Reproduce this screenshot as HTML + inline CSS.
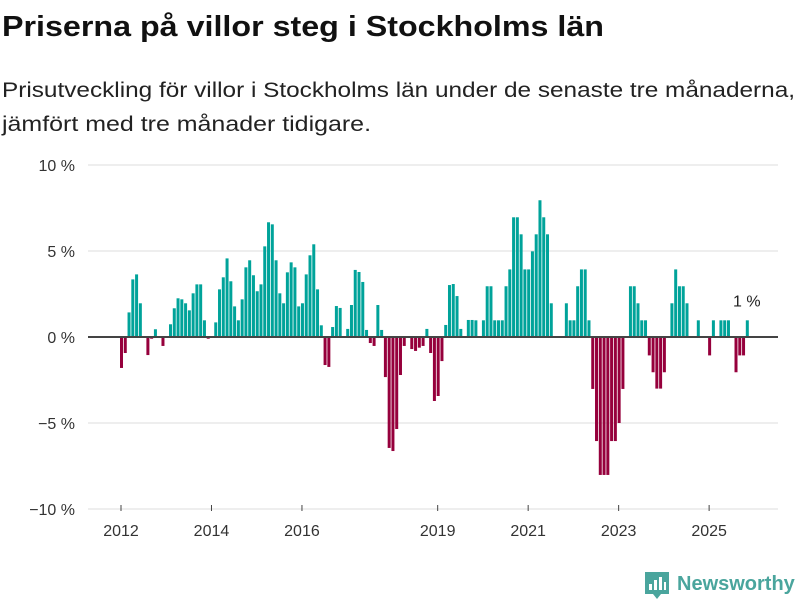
<!DOCTYPE html>
<html><head><meta charset="utf-8"><style>
body{margin:0;width:800px;height:600px;background:#fff;font-family:"Liberation Sans","DejaVu Sans",sans-serif;color:#111;overflow:hidden;position:relative}
svg{position:absolute;left:0;top:0}
</style></head><body>
<svg width="800" height="600">
<text x="2" y="36" font-size="29" font-weight="bold" fill="#111" textLength="602" lengthAdjust="spacingAndGlyphs">Priserna på villor steg i Stockholms län</text>
<text x="2" y="97" font-size="21" fill="#222" textLength="793" lengthAdjust="spacingAndGlyphs">Prisutveckling för villor i Stockholms län under de senaste tre månaderna,</text>
<text x="2" y="131" font-size="21" fill="#222" textLength="369" lengthAdjust="spacingAndGlyphs">jämfört med tre månader tidigare.</text>
</svg>
<svg id="chart" width="800" height="600"></svg>
<script>
const values = [-1.8,-0.93,1.43,3.35,3.64,1.96,0,-1.05,-0.1,0.45,0,-0.52,0,0.74,1.67,2.25,2.19,1.96,1.55,2.54,3.06,3.06,0.97,-0.1,
0,0.85,2.77,3.47,4.57,3.24,1.78,0.97,2.19,4.05,4.46,3.59,2.66,3.06,5.27,6.67,6.55,4.46,2.54,1.96,3.76,4.34,4.05,1.78,
1.96,3.64,4.75,5.39,2.77,0.68,-1.63,-1.74,0.58,1.8,1.69,0,0.47,1.86,3.9,3.78,3.2,0.41,-0.35,-0.52,1.86,0.41,-2.33,-6.45,
-6.63,-5.35,-2.21,-0.52,0,-0.7,-0.81,-0.62,-0.52,0.47,-0.93,-3.72,-3.43,-1.4,0.7,3.02,3.08,2.38,0.47,0,0.99,0.99,
0.97,0,0.97,2.95,2.95,0.97,0.97,0.97,2.95,3.93,6.96,6.96,5.97,3.93,3.93,4.98,5.97,7.95,6.96,5.97,1.96,0,0,0,
1.96,0.97,0.97,2.95,3.93,3.93,0.97,-3.02,-6.05,-8.02,-8.02,-8.02,-6.05,-6.05,-5.0,-3.02,0,2.95,2.95,1.96,0.97,0.97,
-1.07,-2.05,-3.0,-3.0,-2.05,0,1.96,3.93,2.95,2.95,1.96,0,0,0.97,0,0,-1.07,0.97,0,0.97,0.97,0.97,0,-2.05,-1.07,-1.07,0.97];
const yTicks = [10,5,0,-5,-10];
const yTickLabels = ["10 %","5 %","0 %","−5 %","−10 %"];
const xYears = [2012,2014,2016,2019,2021,2023,2025];
const startYear = 2012;
const lastLabel = "1 %";

const svg = document.getElementById('chart');
const NS = 'http://www.w3.org/2000/svg';
function y(v){return 337 - v*17.2;}
function xm(i){return 120 + i*3.77;}
function xYear(yr){return 121 + (yr-startYear)*12*3.77;}
function mk(tag, attrs){const e=document.createElementNS(NS,tag);for(const k in attrs)e.setAttribute(k,attrs[k]);svg.appendChild(e);return e;}

yTicks.forEach((t,k)=>{
  if(t!==0){const g=mk('line',{x1:88,x2:778,y1:y(t),y2:y(t),stroke:'#dedede','stroke-width':1});
  
  }
  const l=mk('text',{x:75,y:y(t)+6,'text-anchor':'end','font-size':16,fill:'#333'});
  l.textContent=yTickLabels[k];
  
  
});
values.forEach((v,i)=>{
  if(v===0)return;
  const r=mk('rect',{x:xm(i),width:3,y:v>0?y(v):y(0),height:Math.abs(v)*17.2,fill:v>0?'#00a39a':'#96003c'});
  
  
});
const z=mk('line',{x1:88,x2:778,y1:y(0),y2:y(0),stroke:'#444','stroke-width':2});


xYears.forEach(yr=>{
  const tk=mk('line',{x1:xYear(yr),x2:xYear(yr),y1:505,y2:511,stroke:'#444','stroke-width':1});
  
  
  const t=mk('text',{x:xYear(yr),y:536,'text-anchor':'middle','font-size':16,fill:'#333'});
  t.textContent=yr;
  
  
});
const li=values.length-1;
const an=mk('text',{x:xm(li)+1,y:y(values[li])-14,'text-anchor':'middle','font-size':16,fill:'#222'});
an.textContent=lastLabel;


</script>
<svg width="800" height="600" style="pointer-events:none">
<g>
<path d="M645 572 h24 v22 h-8 l-4 5 l-4 -5 h-8 z" fill="#4aa59d"/>
<rect x="649" y="584" width="3" height="6" fill="#fff"/><rect x="654" y="580" width="3" height="10" fill="#fff"/><rect x="659" y="577" width="3" height="13" fill="#fff"/><rect x="664" y="582" width="2" height="8" fill="#fff"/>
</g>
<text x="677" y="590" font-size="20" font-weight="bold" fill="#4aa59d" font-family="Liberation Sans, sans-serif">Newsworthy</text>
</svg>
</body></html>
